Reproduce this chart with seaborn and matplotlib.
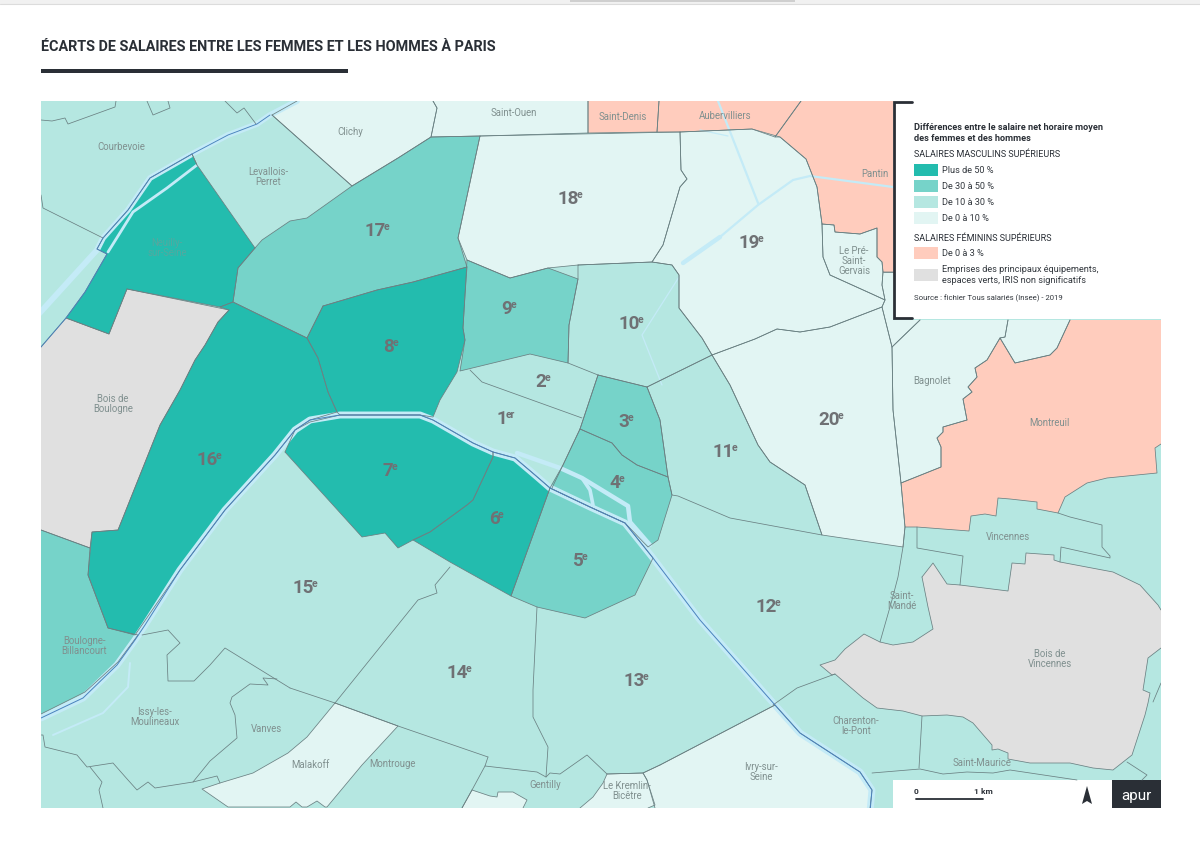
import matplotlib
matplotlib.use("Agg")
import matplotlib.pyplot as plt
import seaborn as sns

sns.set_theme(style="white")
plt.rcParams['font.family'] = ['Roboto', 'DejaVu Sans']

# contours (x, y en pixels de la carte)
clichy = [(272,115),(297,101),(433,101),(437,108),(431,137),(398,158),(352,186)]
saint_ouen = [(433,101),(588,101),(588,133),(480,136),(431,137),(437,108)]
saint_denis = [(588,101),(659,101),(657,132),(588,133)]
aubervilliers = [(659,101),(801,101),(775,137),(752,129),(680,132),(657,132)]
pantin = [(801,101),(893,101),(893,272),(883,272),(882,262),(877,257),(877,228),(860,234),(835,232),(834,225),(822,224),(817,187),(806,159),(780,137),(775,137)]
lilas = [(883,272),(893,272),(893,320),(920,320),(892,347),(882,307),(885,300),(882,285)]
bagnolet = [(892,347),(920,320),(1008,320),(1005,337),(1000,338),(987,360),(975,368),(977,377),(968,387),(972,392),(963,399),(967,420),(943,427),(943,432),(937,438),(941,447),(941,467),(901,483),(893,410)]
romainville = [(1008,320),(1070,320),(1057,348),(1050,355),(1015,363),(1000,338),(1005,337)]
montreuil = [(1070,320),(1161,320),(1161,444),(1155,448),(1157,473),(1107,478),(1087,483),(1065,497),(1058,513),(1037,509),(1037,502),(1010,499),(998,498),(996,516),(985,514),(971,516),(969,531),(917,527),(905,527),(901,483),(941,467),(941,447),(937,438),(943,432),(943,427),(967,420),(963,399),(972,392),(968,387),(977,377),(975,368),(987,360),(1000,338),(1015,363),(1050,355),(1057,348)]
bois_vincennes = [(922,577),(933,563),(947,584),(960,585),(1008,591),(1012,563),(1025,564),(1026,553),(1054,555),(1054,560),(1060,562),(1113,572),(1140,585),(1158,605),(1161,610),(1161,648),(1148,658),(1143,690),(1150,693),(1148,703),(1145,715),(1132,755),(1113,770),(1093,768),(1070,763),(1030,763),(1008,759),(1008,753),(998,749),(992,750),(992,745),(973,723),(963,717),(947,715),(922,716),(903,711),(877,708),(863,698),(835,674),(832,675),(820,665),(835,660),(845,649),(864,634),(880,642),(893,645),(913,642),(933,629),(928,607)]
bois_boulogne = [(127,289),(229,310),(218,322),(205,345),(195,360),(180,390),(160,425),(118,530),(92,532),(90,548),(41,530),(41,347),(66,318),(109,334)]
boulogne = [(41,530),(90,548),(88,575),(108,628),(138,635),(118,662),(85,692),(41,714)]
neuilly = [(192,154),(197,165),(255,248),(238,268),(233,302),(220,307),(127,289),(109,334),(66,318),(85,292),(107,254),(97,249),(103,238),(128,210),(150,178)]
malakoff = [(335,703),(398,726),(362,765),(327,807),(325,807),(317,801),(307,807),(302,807),(296,802),(290,807),(228,807),(202,789),(220,783),(253,773),(288,753),(307,737)]
arcueil = [(472,790),(490,796),(497,797),(498,792),(513,792),(527,800),(523,808),(462,808)]
ivry = [(660,765),(775,705),(800,733),(860,772),(872,790),(870,808),(655,808),(647,780),(643,773)]
kremlin = [(607,774),(643,773),(647,780),(655,805),(648,808),(580,808),(593,797),(603,783)]

ar16 = [(220,307),(233,302),(307,338),(318,358),(328,392),(337,412),(310,420),(295,430),(275,455),(225,510),(180,570),(135,635),(108,628),(88,575),(92,532),(118,530),(160,425),(180,390),(195,360),(205,345),(218,322),(229,310)]
ar17 = [(255,248),(262,240),(290,221),(307,218),(352,186),(398,158),(431,137),(480,136),(458,238),(467,267),(413,282),(377,290),(323,306),(307,338),(233,302),(238,268)]
ar18 = [(480,136),(680,132),(681,170),(687,179),(680,187),(663,245),(652,262),(578,265),(548,268),(510,278),(467,260),(458,238)]
ar19 = [(680,132),(752,129),(780,137),(806,159),(817,187),(822,224),(823,257),(830,275),(872,294),(885,300),(882,307),(830,327),(800,332),(777,329),(755,339),(712,355),(702,338),(679,308),(679,275),(672,265),(652,262),(663,245),(680,187),(687,179),(681,170)]
le_pre = [(822,224),(834,225),(835,232),(860,234),(877,228),(877,257),(882,262),(883,272),(882,285),(885,300),(872,294),(830,275),(823,257)]
ar20 = [(712,355),(755,339),(777,329),(800,332),(830,327),(882,307),(892,347),(893,410),(901,483),(905,527),(903,547),(822,535),(805,485),(770,462),(758,445),(730,385)]
ar8 = [(323,306),(377,290),(413,282),(467,267),(465,295),(463,328),(465,340),(457,372),(440,400),(433,417),(420,415),(340,415),(337,412),(328,392),(318,358),(307,338)]
ar9 = [(467,260),(510,278),(548,268),(578,279),(569,325),(568,363),(530,354),(460,371),(465,340),(463,328),(465,295)]
ar10 = [(578,265),(652,262),(672,265),(679,275),(679,308),(702,338),(712,355),(647,387),(598,375),(568,363),(569,325),(578,279)]
ar11 = [(647,387),(712,355),(730,385),(758,445),(770,462),(805,485),(822,535),(730,518),(678,496),(672,495),(668,477),(660,420)]
ar3 = [(598,375),(647,387),(660,420),(668,477),(637,465),(622,455),(612,443),(580,429)]
ar4 = [(580,429),(612,443),(622,455),(637,465),(668,477),(672,495),(658,540),(648,547),(625,523),(590,507),(550,488),(563,465)]
ar5 = [(550,488),(590,507),(625,523),(653,558),(635,595),(585,618),(537,607),(511,596)]
ar6 = [(493,452),(515,458),(535,475),(550,488),(511,596),(450,562),(413,540),(430,532),(467,505),(473,500),(493,457)]
ar7 = [(285,452),(295,430),(310,422),(340,415),(420,415),(433,420),(473,443),(493,452),(493,457),(473,500),(467,505),(430,532),(413,540),(398,548),(385,533),(362,537)]

# limites des zones sans aplat propre
courbevoie_a = [(41,120),(52,121),(65,118),(68,124),(115,107),(116,101)]
courbevoie_b = [(147,101),(153,115),(170,108),(168,101)]
courbevoie_c = [(225,101),(237,113),(244,108),(256,124)]
courbevoie_d = [(41,195),(43,208),(103,238)]
levallois = [(192,154),(197,165)]
levallois_est = [(272,115),(352,186)]
arr_1_2 = [(470,370),(482,382),(582,418)]
arr_2_est = [(598,375),(580,429),(563,465),(552,488)]
arr_15_14 = [(450,567),(435,585),(437,593),(418,600),(335,703)]
arr_14_13 = [(537,607),(533,690),(533,717),(548,747),(546,777)]
arr_14_sud = [(290,688),(335,703),(398,726),(488,757)]
sud_paris = [(488,757),(485,766),(537,772),(546,777),(550,773),(560,774),(587,755),(607,774),(643,773),(660,765),(775,705)]
issy_nord = [(142,635),(168,630),(180,643),(167,655),(168,681),(194,681),(210,665),(225,648),(290,688)]
vanves = [(277,679),(263,678),(268,685),(250,684),(232,697),(230,703),(235,715),(237,738),(210,761),(193,782),(155,788),(148,782),(137,790),(128,780),(113,763),(87,767),(77,755),(45,747),(43,735),(41,735)]
vanves_sud = [(193,782),(217,776),(220,783)]
clamart = [(90,767),(102,782),(99,790),(103,808)]
montrouge_o = [(485,766),(472,790),(462,808)]
vincennes_a = [(917,527),(917,548),(963,556),(960,585)]
vincennes_b = [(1060,562),(1061,547),(1110,558),(1110,556),(1102,547),(1102,525),(1070,517),(1058,513)]
mande_o = [(905,527),(903,547),(898,577),(892,600),(880,642)]
charenton_n = [(835,674),(797,688),(773,705)]
charenton_e = [(922,716),(919,768)]
marne = [(872,773),(920,769),(943,774),(967,772),(993,773),(1010,770),(1077,780)]
est_bois = [(1127,762),(1147,775),(1142,780)]
est_bois_b = [(1161,683),(1153,702)]
border_lines = [courbevoie_a, courbevoie_b, courbevoie_c, courbevoie_d, levallois, levallois_est, arr_1_2, arr_2_est,
                arr_15_14, arr_14_13, arr_14_sud, sud_paris, issy_nord, vanves, vanves_sud, clamart, montrouge_o,
                vincennes_a, vincennes_b, mande_o, charenton_n, charenton_e, marne, est_bois, est_bois_b]

# Seine et canaux
seine_paris = [(41,718),(83,698),(117,665),(135,640),(145,625),(180,570),(225,510),(275,455),(295,430),(310,420),(340,415),(420,415),(433,420),(473,443),(493,452),(515,458),(535,475),(550,488),(590,507),(625,523),(653,558),(700,620),(775,705),(800,733),(860,772),(872,790),(870,812)]
seine_nord = [(297,101),(270,115),(257,124),(228,135),(192,154),(150,178),(128,210),(103,238),(97,250),(37,316)]
seine_nord_fin = [(270,115),(257,124),(228,135),(192,154),(150,178),(128,210),(103,238),(97,249),(107,254),(85,292),(66,318),(41,347)]
bras_neuilly = [(197,165),(167,188),(133,212),(108,252)]
bras_meudon = [(130,663),(128,687),(103,713),(53,735)]
bras_cite = [(517,453),(560,468),(582,478),(628,506),(630,522),(650,545)]
bras_ile = [(582,478),(590,490),(593,505)]
canal_denis = [(718,101),(758,203)]
canal_ourcq = [(683,263),(720,237),(758,205),(793,180),(810,176),(893,187)]
canal_large = [(683,263),(720,237)]
canal_martin = [(679,277),(642,335),(662,385)]
canal_bras = [(700,130),(728,136)]

# légende
masc_labels = ["Plus de 50 %", "De 30 à 50 %", "De 10 à 30 %", "De 0 à 10 %"]
fem_label = "De 0 à 3 %"
grey_label = "Emprises des principaux équipements,\nespaces verts, IRIS non significatifs"
ar_names = ["18", "17", "19", "9", "10", "8", "2", "1", "3", "20", "11", "7", "4", "16", "6", "5", "15", "12", "14", "13"]
ar_x = [571, 378, 752, 510, 632, 392, 544, 505, 627, 832, 726, 391, 618, 210, 497, 581, 306, 769, 460, 637]
ar_y = [199, 231, 243, 309, 324, 347, 382, 419, 422, 420, 452, 471, 483, 460, 519, 561, 588, 607, 673, 681]
communes = ["Courbevoie", "Clichy", "Saint-Ouen", "Saint-Denis", "Aubervilliers", "Pantin", "Levallois-\nPerret",
            "Le Pré-\nSaint-\nGervais", "Bagnolet", "Montreuil", "Vincennes", "Saint-\nMandé", "Bois de\nBoulogne",
            "Bois de\nVincennes", "Boulogne-\nBillancourt", "Issy-les-\nMoulineaux", "Vanves", "Malakoff", "Montrouge",
            "Gentilly", "Le Kremlin-\nBicêtre", "Ivry-sur-\nSeine", "Charenton-\nle-Pont", "Saint-Maurice"]
communes_x = [121, 350, 514, 623, 725, 875, 268, 854, 932, 1049, 1008, 902, 113, 1050, 84, 155, 266, 310, 392, 545, 627, 761, 856, 982]
communes_y = [147, 132, 113, 117, 116, 174, 177, 261, 381, 423, 537, 601, 404, 659, 646, 717, 729, 765, 764, 785, 791, 772, 726, 763]

COLORS = {"plus50": "#23bcae", "30_50": "#76d3c9", "10_30": "#b5e7e1", "0_10": "#e2f5f3", "fem": "#ffccbd", "gris": "#e0e0e0"}
WATER = "#c4ebf7"
RIVER = "#4a82bd"
BORDER = "#6a8082"
DARK = "#2a2f36"

regions = [
    (clichy, "0_10"), (saint_ouen, "0_10"), (saint_denis, "fem"), (aubervilliers, "fem"), (pantin, "fem"),
    (lilas, "0_10"), (bagnolet, "0_10"), (romainville, "0_10"), (montreuil, "fem"), (bois_vincennes, "gris"),
    (bois_boulogne, "gris"), (boulogne, "30_50"), (neuilly, "plus50"), (malakoff, "0_10"), (arcueil, "0_10"),
    (ivry, "0_10"), (kremlin, "0_10"), (ar16, "plus50"), (ar17, "30_50"), (ar18, "0_10"), (ar19, "0_10"),
    (le_pre, "0_10"), (ar20, "0_10"), (ar8, "plus50"), (ar9, "30_50"), (ar10, "10_30"), (ar11, "10_30"),
    (ar3, "30_50"), (ar4, "30_50"), (ar5, "30_50"), (ar6, "plus50"), (ar7, "plus50"),
]


def trace(ax, pts, color, lw):
    sns.lineplot(x=[p[0] for p in pts], y=[p[1] for p in pts], sort=False, estimator=None,
                 color=color, linewidth=lw, ax=ax)


def on_frame(a, b):
    # segment posé sur le cadre de la carte ou sous la légende : pas de trait
    if a[1] == b[1] and a[1] in (101, 320, 808):
        return True
    if a[0] == b[0] and a[0] in (41, 893, 1161):
        return True
    return False


def trace_contour(ax, pts):
    closed = pts + pts[:1]
    run = [closed[0]]
    for a, b in zip(closed, closed[1:]):
        if on_frame(a, b):
            if len(run) > 1:
                trace(ax, run, BORDER, 0.55)
            run = [b]
        else:
            run.append(b)
    if len(run) > 1:
        trace(ax, run, BORDER, 0.55)


fig = plt.figure(figsize=(12, 8.49), dpi=100, facecolor="white")
ax = fig.add_axes([0, 0, 1, 1])

# fond de carte
ax.fill([41, 1161, 1161, 41], [101, 101, 808, 808], color=COLORS["10_30"], lw=0)
for pts, level in regions:
    ax.fill([p[0] for p in pts], [p[1] for p in pts], color=COLORS[level], lw=0)

# eau
for canal, w in [(canal_denis, 1.6), (canal_ourcq, 1.6), (canal_martin, 0.9), (canal_bras, 0.9)]:
    trace(ax, canal, WATER, w)
trace(ax, canal_large, WATER, 3.2)
trace(ax, seine_paris, WATER, 5.0)
trace(ax, seine_nord, WATER, 4.2)
trace(ax, bras_neuilly, WATER, 2.0)
trace(ax, bras_meudon, WATER, 1.4)
trace(ax, bras_cite, WATER, 3.2)
trace(ax, bras_ile, WATER, 2.6)

# limites
for pts, level in regions:
    trace_contour(ax, pts)
for pts in border_lines:
    trace(ax, pts, BORDER, 0.55)
trace(ax, seine_paris, RIVER, 0.7)
trace(ax, seine_nord_fin, RIVER, 0.65)

# tout reste dans le cadre de la carte
cadre = plt.Rectangle((41, 101), 1120, 707, transform=ax.transData)
for line in ax.lines:
    line.set_clip_path(cadre)

# étiquettes
for name, x, y in zip(communes, communes_x, communes_y):
    ax.text(x, y, name, ha="center", va="center", fontsize=6.9, color="#80908f", linespacing=0.95)
ax.text(167, 248, "Neuilly-\nsur-Seine", ha="center", va="center", fontsize=6.9, color="#55a89f", linespacing=0.95)
for name, x, y in zip(ar_names, ar_x, ar_y):
    t = ax.text(x - 3, y, name, ha="center", va="center", fontsize=13.5, fontweight="bold", color="#6f7174")
    ax.annotate("er" if name == "1" else "e", xy=(1, 1), xycoords=t, xytext=(-1.5, 0), textcoords="offset points",
                ha="left", va="top", fontsize=7.5, fontweight="bold", color="#6f7174")

# légende
ax.fill([893, 1161, 1161, 893], [101, 101, 319, 319], color="white", lw=0)
ax.plot([912, 894, 894, 912], [102, 102, 318, 318], color=DARK, lw=2, solid_joinstyle="miter")
ax.text(914, 127, "Différences entre le salaire net horaire moyen", fontsize=6.6, fontweight="bold", color=DARK, va="center")
ax.text(914, 138, "des femmes et des hommes", fontsize=6.6, fontweight="bold", color=DARK, va="center")
ax.text(914, 154, "SALAIRES MASCULINS SUPÉRIEURS", fontsize=6.5, color=DARK, va="center")
for label, level, y in zip(masc_labels, ["plus50", "30_50", "10_30", "0_10"], [170, 186, 202, 218]):
    ax.fill([914, 938, 938, 914], [y - 6, y - 6, y + 6, y + 6], color=COLORS[level], lw=0)
    ax.text(942, y, label, fontsize=6.6, color="#33383e", va="center")
ax.text(914, 238, "SALAIRES FÉMININS SUPÉRIEURS", fontsize=6.5, color=DARK, va="center")
ax.fill([914, 938, 938, 914], [247, 247, 259, 259], color=COLORS["fem"], lw=0)
ax.text(942, 253, fem_label, fontsize=6.6, color="#33383e", va="center")
ax.fill([914, 938, 938, 914], [269, 269, 281, 281], color=COLORS["gris"], lw=0)
ax.text(942, 275, grey_label, fontsize=6.6, color="#33383e", va="center", linespacing=1.2)
ax.text(914, 298, "Source : fichier Tous salariés (Insee) - 2019", fontsize=5.6, color="#33383e", va="center")

# échelle, nord, logo
ax.fill([893, 1161, 1161, 893], [780, 780, 808, 808], color="white", lw=0)
ax.plot([916, 983], [799, 799], color=DARK, lw=1.3)
ax.text(916, 792, "0", fontsize=6, fontweight="bold", color=DARK, ha="center", va="center")
ax.text(983, 792, "1 km", fontsize=6, fontweight="bold", color=DARK, ha="center", va="center")
ax.fill([1082, 1087, 1092, 1087], [804, 786, 804, 801], color=DARK, lw=0)
ax.fill([1112, 1161, 1161, 1112], [780, 780, 808, 808], color=DARK, lw=0)
ax.text(1136.5, 796, "apur", fontsize=11, color="white", ha="center", va="center")

# titre
ax.text(41, 47, "ÉCARTS DE SALAIRES ENTRE LES FEMMES ET LES HOMMES À PARIS", fontsize=10.4, fontweight="bold",
        color=DARK, va="center")
ax.fill([41, 348, 348, 41], [69, 69, 73, 73], color=DARK, lw=0)

# bord de la capture
ax.fill([0, 1200, 1200, 0], [0, 0, 4, 4], color="#f1f1f1", lw=0)
ax.plot([0, 1200], [4, 4], color="#dcdcdc", lw=0.8)
ax.fill([570, 795, 795, 570], [0, 0, 2, 2], color="#cfcfcf", lw=0)

ax.set_xlim(0, 1200)
ax.set_ylim(849, 0)
ax.axis("off")
fig.savefig("out.png", dpi=100)
